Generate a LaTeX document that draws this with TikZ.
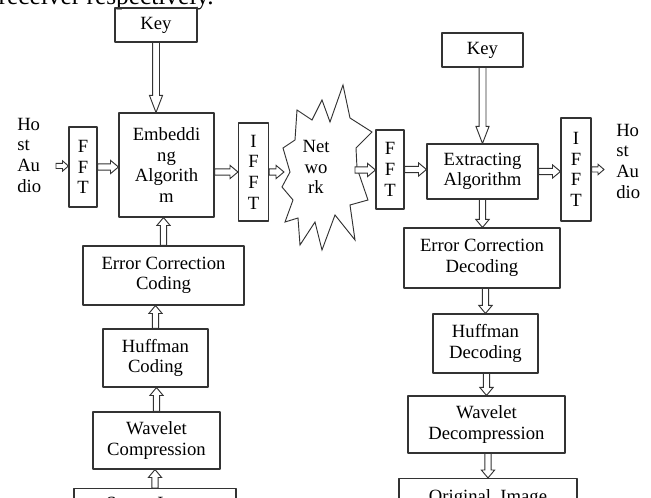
\documentclass[tikz,border=0pt]{standalone}
\usepackage{fontspec}
\setmainfont{Liberation Serif}
\usetikzlibrary{calc}
\tikzset{
  box/.style={draw=black!80, line width=0.8pt, align=center, inner sep=1pt},
  blk/.style n args={3}{draw=black!80, line width=0.7pt, fill=white, line join=miter,
    to path={($(\tikztotarget)!#3!(\tikztostart)$) coordinate (blkc)
      ($(\tikztostart)!#1!90:(\tikztotarget)$) -- ($(blkc)!#1!-90:(\tikztostart)$)
      -- ($(blkc)!#2!-90:(\tikztostart)$) -- (\tikztotarget)
      -- ($(blkc)!#2!90:(\tikztostart)$) -- ($(blkc)!#1!90:(\tikztostart)$)
      -- ($(\tikztostart)!#1!-90:(\tikztotarget)$) -- cycle}},
  bigarrow/.style={blk={2.6pt}{4.9pt}{12.75pt}},
  arrow/.style={blk={2.4pt}{5pt}{6pt}},
  tinyarrow/.style={blk={1.9pt}{3.9pt}{4.5pt}}
}
\begin{document}
\begin{tikzpicture}[font=\fontsize{14}{15.5}\selectfont, line join=round, x=0.75pt, y=-0.75pt]
\useasboundingbox (0,0) rectangle (651,498);
\clip (0,0) rectangle (651,498);
\node[anchor=base west, font=\fontsize{19}{22}\selectfont] (cap) at (-6,5) {receiver respectively.};
% embedding side
\node[box, minimum width=82*0.75pt, minimum height=34*0.75pt] (key1) at (156,25) {Key};
\node[box, minimum width=95*0.75pt, minimum height=104*0.75pt] (emb) at (166.5,165) {Embeddi\\ng\\Algorith\\m};
\node[align=left, anchor=west, inner sep=0pt] (hostL) at (17,155) {Ho\\st\\Au\\dio};
\node[box, minimum width=28*0.75pt, minimum height=80*0.75pt] (fft1) at (83,167) {F\\F\\T};
\node[box, minimum width=30*0.75pt, minimum height=98*0.75pt] (ifft1) at (253.5,172) {I\\F\\F\\T};
\node[box, minimum width=161*0.75pt, minimum height=59*0.75pt] (ecc) at (163.5,275.5) {Error Correction\\Coding};
\node[box, minimum width=105*0.75pt, minimum height=58*0.75pt] (hc) at (155.5,358) {Huffman\\Coding};
\node[box, minimum width=127*0.75pt, minimum height=57*0.75pt] (wc) at (156.5,440.5) {Wavelet\\Compression};
\node[box, minimum width=162*0.75pt, minimum height=34*0.75pt, anchor=north] (si) at (155,488) {Secret Image};
% network
\draw[draw=black!80, line width=0.7pt, fill=white, line join=miter]
  (322,100) -- (330,122) -- (343,85) -- (350,118) -- (372,132) -- (356,148) -- (357,168)
  -- (368,200) -- (350,205) -- (355,240) -- (335,215) -- (322,250) -- (315,222) -- (300,245)
  -- (298,218) -- (285,222) -- (293,200) -- (282,187) -- (290,172) -- (283,148) -- (295,140)
  -- (297,110) -- (312,120) -- cycle;
\node[align=center, inner sep=0pt] (net) at (316,167) {Net\\wo\\rk};
\coordinate (netin) at (284,172);
\coordinate (netout) at (355,170);
% extracting side
\node[box, minimum width=81*0.75pt, minimum height=34*0.75pt] (key2) at (482.5,50) {Key};
\node[box, minimum width=28*0.75pt, minimum height=79*0.75pt] (fft2) at (390,169.5) {F\\F\\T};
\node[box, minimum width=111*0.75pt, minimum height=55*0.75pt] (ext) at (482.5,171.5) {Extracting\\Algorithm};
\node[box, minimum width=30*0.75pt, minimum height=103*0.75pt] (ifft2) at (576,169.5) {I\\F\\F\\T};
\node[align=left, anchor=west, inner sep=0pt] (hostR) at (616,161) {Ho\\st\\Au\\dio};
\node[box, minimum width=156*0.75pt, minimum height=60*0.75pt] (ecd) at (482,258) {Error Correction\\Decoding};
\node[box, minimum width=105*0.75pt, minimum height=59*0.75pt] (hd) at (485.5,343.5) {Huffman\\Decoding};
\node[box, minimum width=157*0.75pt, minimum height=57*0.75pt] (wd) at (486.5,424.5) {Wavelet\\Decompression};
\node[box, minimum width=178*0.75pt, minimum height=40*0.75pt, anchor=north] (oi) at (488,478) {Original\ \ Image};
\coordinate (inL) at (56,166);
\coordinate (outR) at (604,169);
% arrows
\draw[bigarrow] (key1.south) to (key1.south |- emb.north);
\draw[bigarrow] (key2.south) to (key2.south |- ext.north);
\draw[tinyarrow] (inL) to (inL -| fft1.west);
\draw[arrow] (fft1.east) to (fft1.east -| emb.west);
\draw[arrow] (ifft1.west -| emb.east) to (ifft1.west);
\draw[arrow] (ifft1.east) to (ifft1.east -| netin);
\draw[arrow] (netout) to (netout -| fft2.west);
\draw[arrow] (fft2.east) to (fft2.east -| ext.west);
\draw[arrow] (ext.east) to (ext.east -| ifft2.west);
\draw[tinyarrow] (ifft2.east) to (ifft2.east -| outR);
\draw[arrow] (ecc.north) to (ecc.north |- emb.south);
\draw[arrow] (hc.north) to (hc.north |- ecc.south);
\draw[arrow] (wc.north) to (wc.north |- hc.south);
\draw[arrow] (si.north) to (si.north |- wc.south);
\draw[arrow] (ext.south) to (ext.south |- ecd.north);
\draw[arrow] (hd.north |- ecd.south) to (hd.north);
\draw[arrow] (wd.north |- hd.south) to (wd.north);
\draw[arrow] (oi.north |- wd.south) to (oi.north);
\end{tikzpicture}
\end{document}
